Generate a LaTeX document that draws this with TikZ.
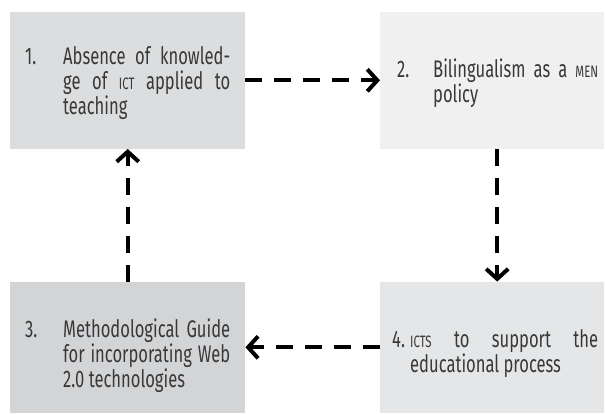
\documentclass[tikz,border=0pt]{standalone}
\usepackage{fontspec}
\setmainfont[FakeStretch=0.69]{Fira Sans}
\usetikzlibrary{arrows.meta}
\definecolor{cone}{HTML}{DCDDDE}
\definecolor{ctwo}{HTML}{F0F0F0}
\definecolor{cthree}{HTML}{D3D4D6}
\definecolor{cfour}{HTML}{E5E6E7}
\definecolor{tcol}{HTML}{383838}
\hyphenpenalty=10000
\emergencystretch=20pt
\newcommand\smc[1]{{\fontsize{16.5}{16.5}\selectfont #1}}
\newcommand\txtfont{\fontsize{24}{25}\selectfont}
\tikzset{
  box/.style={anchor=south west, inner sep=0pt, draw=none},
  txt/.style={anchor=base west, inner sep=0pt, align=justify, text=tcol, font=\txtfont},
  num/.style={anchor=base west, inner sep=0pt, text=tcol, font=\txtfont},
  flow/.style={line width=4pt, dash pattern=on 17pt off 12pt,
    -{Straight Barb[length=10pt,width=22pt,line cap=butt]}}
}
\begin{document}
\begin{tikzpicture}[x=1pt,y=1pt]
\useasboundingbox (0,0) rectangle (605,413);
\node[box, fill=cone, minimum width=235pt, minimum height=137pt] (b1) at (10,264) {};
\node[box, fill=ctwo, minimum width=224pt, minimum height=137pt] (b2) at (380,264) {};
\node[box, fill=cthree, minimum width=235pt, minimum height=131pt] (b3) at (10,0) {};
\node[box, fill=cfour, minimum width=224pt, minimum height=131pt] (b4) at (380,0) {};

\node[num] (n1) at (25,348) {1.};
\node[txt, text width=167pt] (t1) at (63,348) {Absence of knowled-\linebreak ge of \smc{ICT} applied to\linebreak teaching};
\node[num] (n2) at (397,335) {2.};
\node[txt, text width=165pt] (t2) at (433,335) {Bilingualism as a \smc{MEN}\linebreak policy};
\node[num] (n3) at (25,76) {3.};
\node[txt, text width=167pt] (t3) at (63,76) {Methodological Guide\linebreak for incorporating Web\linebreak 2.0 technologies};
\node[num] (n4) at (392,66) {4.};
\node[txt, text width=188pt] (t4) at (410,66) {\smc{ICTS} to support the\linebreak educational process};

\draw[flow] (b1.east) -- (b2.west);
\draw[flow] ([xshift=5pt]b2.south) -- ([xshift=5pt]b4.north);
\draw[flow] (b4.west) -- (b3.east);
\draw[flow] (b3.north) -- (b1.south);
\end{tikzpicture}
\end{document}
